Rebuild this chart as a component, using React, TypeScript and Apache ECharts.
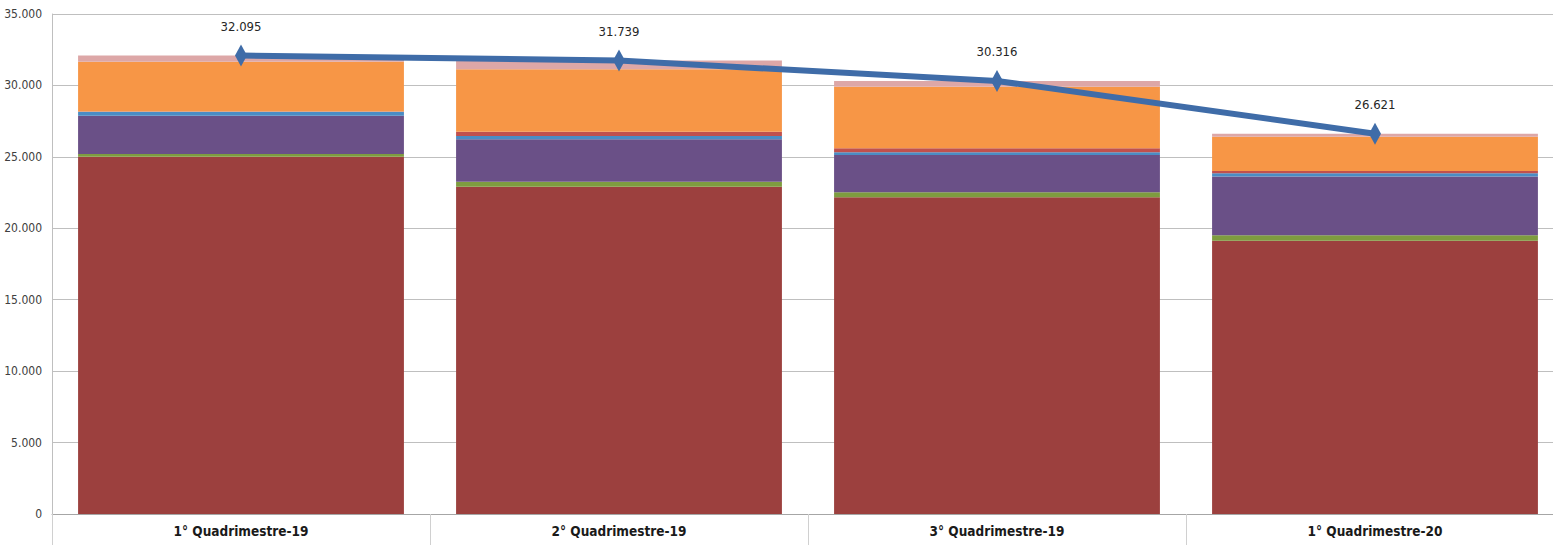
import React, { useEffect, useRef } from "react";
import * as echarts from "echarts";

const categories = ["1° Quadrimestre-19", "2° Quadrimestre-19", "3° Quadrimestre-19", "1° Quadrimestre-20"];
const darkRed = [25010, 22910, 22170, 19130];
const green = [190, 350, 350, 380];
const purple = [2680, 2970, 2610, 4110];
const blue = [270, 230, 190, 230];
const red = [20, 300, 280, 160];
const orange = [3490, 4370, 4310, 2400];
const pink = [435, 609, 406, 211];
const totals = [32095, 31739, 30316, 26621];
const yTicks = { min: 0, max: 35000, interval: 5000 };

const fmt = (v: number) => String(v).replace(/\B(?=(\d{3})+(?!\d))/g, ".");
const FONT = "'Liberation Sans Narrow', 'DejaVu Sans Condensed', 'Liberation Sans', sans-serif";

const stackDefs: [string, number[], string][] = [
  ["A", darkRed, "#9C403E"],
  ["B", green, "#7E9C3F"],
  ["C", purple, "#6A5087"],
  ["D", blue, "#4A8CC4"],
  ["E", red, "#C0504D"],
  ["F", orange, "#F79646"],
  ["G", pink, "#DDA7A7"],
];

export default function App() {
  const ref = useRef<HTMLDivElement>(null);
  useEffect(() => {
    if (!ref.current) return;
    const chart = echarts.init(ref.current, undefined, { renderer: "svg" });
    const barSeries = stackDefs.map(([name, data, color]) => ({
      name,
      type: "bar",
      stack: "total",
      data,
      barCategoryGap: "13.8%",
      itemStyle: { color },
      z: 2,
    }));
    chart.setOption({
      animation: false,
      backgroundColor: "#ffffff",
      grid: { left: 52, right: 6, top: 14, bottom: 31, containLabel: false },
      xAxis: {
        type: "category",
        data: categories,
        axisLine: { show: true, lineStyle: { color: "#A6A6A6", width: 1 } },
        axisTick: { show: true, length: 31, lineStyle: { color: "#D0D0D0" } },
        axisLabel: {
          fontFamily: FONT,
          fontWeight: "bold",
          fontSize: 13.5,
          color: "#1a1a1a",
          margin: 10,
        },
      },
      yAxis: {
        type: "value",
        min: yTicks.min,
        max: yTicks.max,
        interval: yTicks.interval,
        axisLine: { show: true, lineStyle: { color: "#BFBFBF" } },
        axisTick: { show: false },
        splitLine: { lineStyle: { color: "#BFBFBF", width: 1 } },
        axisLabel: {
          formatter: (v: number) => fmt(v),
          fontFamily: FONT,
          fontSize: 12,
          color: "#404040",
          margin: 10,
        },
      },
      series: [
        ...barSeries,
        {
          name: "Totale",
          type: "line",
          data: totals,
          z: 5,
          symbol: "diamond",
          symbolSize: [12, 22],
          lineStyle: { color: "#3F6CA8", width: 6 },
          itemStyle: { color: "#3F6CA8" },
          label: {
            show: true,
            position: "top",
            distance: 12,
            formatter: (p: any) => fmt(p.value),
            fontFamily: FONT,
            fontSize: 13,
            color: "#262626",
          },
        },
      ],
    });
    return () => chart.dispose();
  }, []);
  return (
    <div
      style={{
        position: "absolute",
        left: 0,
        top: 0,
        width: 1553,
        height: 545,
        overflow: "hidden",
      }}
    >
      <div ref={ref} style={{ width: 1570, height: 545 }} />
    </div>
  );
}
